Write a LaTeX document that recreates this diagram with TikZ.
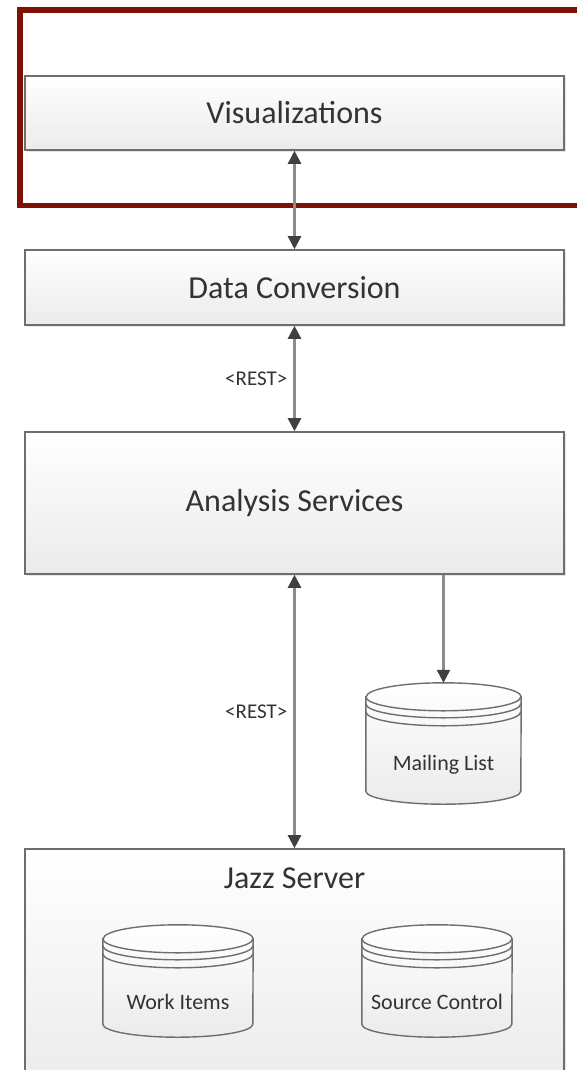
\documentclass[tikz,border=0pt]{standalone}
\usepackage{fontspec}
\setmainfont{Carlito}
\usetikzlibrary{arrows.meta,positioning,shadows,calc}

\definecolor{boxbot}{HTML}{EBEBEB}
\definecolor{boxline}{HTML}{6E6E6E}
\definecolor{txtdark}{HTML}{333333}
\definecolor{linkgrey}{HTML}{8C8C8C}
\definecolor{arrowdark}{HTML}{404040}
\definecolor{framered}{RGB}{128,18,5}

% storage cylinder: name, centre x, top y, width, height, label
\newcommand{\dbstore}[6]{%
  \node[storenode, minimum width=#4, minimum height=#5] (#1) at (#2,{-#3-#5/2}) {};
  \path[storebody] ([yshift=-14pt]#1.north west) -- ([yshift=13pt]#1.south west)
      arc[start angle=180, end angle=360, x radius=#4/2, y radius=13]
      -- ([yshift=-14pt]#1.north east)
      arc[start angle=0, end angle=180, x radius=#4/2, y radius=14] -- cycle;
  \foreach \ringgap in {0,7,15}
    \draw[storeline] ([yshift={-14-\ringgap}]#1.north west)
      arc[start angle=180, end angle=360, x radius=#4/2, y radius=14];
  \node[storelbl] (#1lbl) at ([yshift=-21pt]#1.center) {#6};
}

\begin{document}
\begin{tikzpicture}[
    x=1pt, y=1pt,
    layerbox/.style={draw=boxline, line width=1.6pt, top color=white, bottom color=boxbot, minimum width=539, text=txtdark, font=\fontsize{32}{38}\selectfont, inner sep=0pt, drop shadow={shadow xshift=1.5pt, shadow yshift=-1.5pt, opacity=0.2}},
    storenode/.style={rectangle, inner sep=0pt},
    storebody/.style={draw=boxline, line width=1.4pt, top color=white, bottom color=boxbot},
    storeline/.style={draw=boxline, line width=1.4pt},
    storelbl/.style={text=txtdark, font=\fontsize{22}{26}\selectfont},
    restlbl/.style={text=txtdark, font=\fontsize{21}{25}\selectfont, inner sep=0pt},
    link/.style={draw=linkgrey, line width=2.4pt, >={Triangle[width=13pt,length=13pt,color=arrowdark]}},
    focusframe/.style={draw=framered, line width=5.5pt, minimum width=600, minimum height=195.5, inner sep=0pt}
]
\clip (0,0) rectangle (577,-1070);

% layers
\node[layerbox, minimum height=74] (vis) at (294.5,-113) {Visualizations};
\node[layerbox, minimum height=75] (dc) at (294.5,-287.5) {Data Conversion};
\node[layerbox, minimum height=142] (as) at (294.5,-503) {Analysis Services};
\node[layerbox, minimum height=240] (jazz) at (294.5,-969) {};
\node[text=txtdark, font=\fontsize{32}{38}\selectfont, inner sep=0pt] (jazzlbl) at (294.5,-878) {Jazz Server};

% stores
\dbstore{mail}{443.5}{683}{155}{121}{Mailing List}
\dbstore{work}{178}{925}{150}{112}{Work Items}
\dbstore{src}{437}{925}{150}{112}{Source Control}

% highlight frame
\node[focusframe] (focus) at (320,-107.75) {};

% connectors
\draw[link, <->] (vis.south) -- (dc.north);
\draw[link, <->] (dc.south) -- node[restlbl, midway, left=6pt] (restA) {<REST>} (as.north);
\draw[link, <->] (as.south) -- node[restlbl, midway, left=6pt] (restB) {<REST>} (jazz.north);
\draw[link, ->] (mail.north |- as.south) -- (mail.north);

\end{tikzpicture}
\end{document}
